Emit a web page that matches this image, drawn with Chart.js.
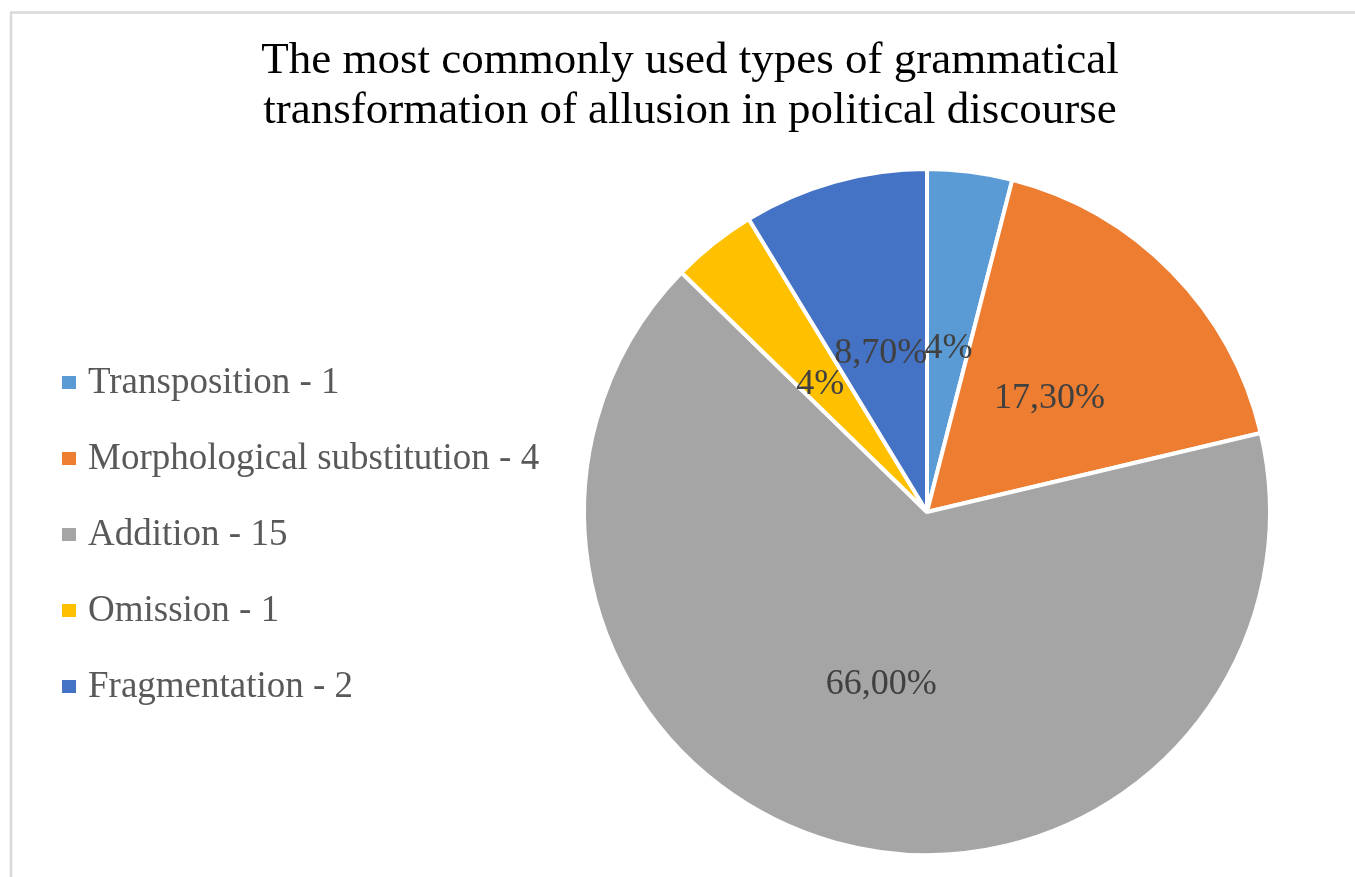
<!DOCTYPE html>
<html lang="en">
<head>
    <meta charset="UTF-8">
    <title>Grammatical transformation of allusion</title>
    <style>
        body {
            margin: 0;
            background-color: #ffffff;
        }
        #pieChart {
            display: block;
        }
    </style>
</head>
<body>
    <canvas id="pieChart" width="1355" height="877"></canvas>
    <script src="https://cdn.jsdelivr.net/npm/chart.js"></script>
    <script>
        // chart data
        var titleLines = ['The most commonly used types of grammatical', 'transformation of allusion in political discourse'];
        var categories = ['Transposition - 1', 'Morphological substitution - 4', 'Addition - 15', 'Omission - 1', 'Fragmentation - 2'];
        var shares = [4, 17.3, 66, 4, 8.7];
        var shareLabels = ['4%', '17,30%', '66,00%', '4%', '8,70%'];
        var sliceColors = ['#5B9BD5', '#ED7D31', '#A5A5A5', '#FFC000', '#4472C4'];

        var serif = '"Liberation Serif", "Times New Roman", serif';

        // frame + title + legend + slice labels, drawn by hand like the Excel original
        var excelLook = {
            id: 'excelLook',
            beforeDraw: function(chart) {
                var ctx = chart.ctx;
                ctx.save();
                ctx.fillStyle = '#ffffff';
                ctx.fillRect(0, 0, chart.width, chart.height);
                ctx.strokeStyle = '#d9d9d9';
                ctx.lineWidth = 2.5;
                ctx.beginPath();
                ctx.moveTo(11, chart.height);
                ctx.lineTo(11, 12.5);
                ctx.lineTo(chart.width, 12.5);
                ctx.stroke();
                ctx.restore();
            },
            afterDatasetsDraw: function(chart) {
                var ctx = chart.ctx;
                var meta = chart.getDatasetMeta(0);
                ctx.save();
                ctx.font = '36px ' + serif;
                ctx.fillStyle = '#404040';
                ctx.textAlign = 'center';
                ctx.textBaseline = 'middle';
                meta.data.forEach(function(arc, i) {
                    var p = arc.tooltipPosition();
                    ctx.fillText(shareLabels[i], p.x, p.y + 7);
                });
                ctx.restore();
            },
            afterDraw: function(chart) {
                var ctx = chart.ctx;
                ctx.save();
                // title
                ctx.font = '45px ' + serif;
                ctx.fillStyle = '#000000';
                ctx.textAlign = 'center';
                ctx.textBaseline = 'alphabetic';
                titleLines.forEach(function(line, i) {
                    ctx.fillText(line, 690, 73 + i * 50);
                });
                // legend
                ctx.font = '37px ' + serif;
                ctx.textAlign = 'left';
                categories.forEach(function(name, i) {
                    var base = 393 + i * 76;
                    ctx.fillStyle = sliceColors[i];
                    ctx.fillRect(62, base - 17, 14, 13);
                    ctx.fillStyle = '#595959';
                    ctx.fillText(name, 88, base);
                });
                ctx.restore();
            }
        };

        var ctx = document.getElementById('pieChart').getContext('2d');
        var pieChart = new Chart(ctx, {
            type: 'pie',
            data: {
                labels: categories,
                datasets: [{
                    data: shares,
                    backgroundColor: sliceColors,
                    borderColor: '#ffffff',
                    borderWidth: 4
                }]
            },
            options: {
                responsive: false,
                animation: false,
                layout: {
                    padding: { top: 167, bottom: 20, left: 582, right: 83 }
                },
                plugins: {
                    legend: { display: false },
                    title: { display: false },
                    tooltip: { enabled: false }
                }
            },
            plugins: [excelLook]
        });
    </script>
</body>
</html>
